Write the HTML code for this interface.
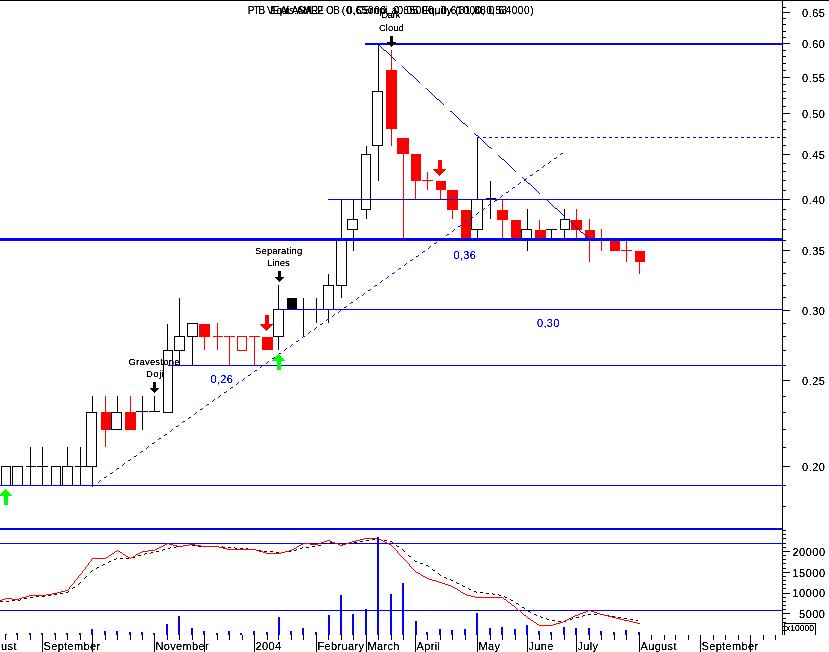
<!DOCTYPE html>
<html><head><meta charset="utf-8"><title>chart</title>
<style>
html,body{margin:0;padding:0;background:#fff;}
body{width:829px;height:652px;position:relative;overflow:hidden;font-family:"Liberation Sans",sans-serif;}
svg{position:absolute;left:0;top:0;}
.t{position:absolute;white-space:nowrap;line-height:1;font-family:"Liberation Sans",sans-serif;}
</style></head><body>
<svg width="829" height="652" viewBox="0 0 829 652" shape-rendering="crispEdges">
<rect x="1.5" y="466.5" width="9" height="19" fill="#fff" stroke="#000" stroke-width="1"/>
<rect x="12.5" y="466.5" width="10" height="19" fill="#fff" stroke="#000" stroke-width="1"/>
<rect x="30" y="447" width="1" height="39" fill="#000"/>
<rect x="26" y="466" width="10" height="1" fill="#000"/>
<rect x="42" y="447" width="1" height="39" fill="#000"/>
<rect x="37" y="466" width="11" height="1" fill="#000"/>
<rect x="51.5" y="466.5" width="9" height="19" fill="#fff" stroke="#000" stroke-width="1"/>
<rect x="67" y="447" width="1" height="20" fill="#000"/>
<rect x="62.5" y="466.5" width="10" height="19" fill="#fff" stroke="#000" stroke-width="1"/>
<rect x="80" y="447" width="1" height="39" fill="#000"/>
<rect x="75" y="466" width="12" height="1" fill="#000"/>
<rect x="92" y="396" width="1" height="17" fill="#000"/>
<rect x="92" y="466" width="1" height="20" fill="#000"/>
<rect x="86.5" y="412.5" width="10" height="54" fill="#fff" stroke="#000" stroke-width="1"/>
<rect x="105" y="396" width="1" height="17" fill="#f00"/>
<rect x="105" y="429" width="1" height="18" fill="#f00"/>
<rect x="101" y="412" width="10" height="18" fill="#f00"/>
<rect x="117" y="396" width="1" height="17" fill="#000"/>
<rect x="111.5" y="412.5" width="10" height="17" fill="#fff" stroke="#000" stroke-width="1"/>
<rect x="130" y="396" width="1" height="17" fill="#f00"/>
<rect x="125" y="412" width="11" height="18" fill="#f00"/>
<rect x="142" y="396" width="1" height="34" fill="#000"/>
<rect x="136" y="411" width="12" height="1" fill="#000"/>
<rect x="154" y="396" width="1" height="16" fill="#000"/>
<rect x="149" y="411" width="11" height="1" fill="#000"/>
<rect x="167" y="324" width="1" height="27" fill="#000"/>
<rect x="163.5" y="350.5" width="9" height="62" fill="#fff" stroke="#000" stroke-width="1"/>
<rect x="179" y="298" width="1" height="39" fill="#000"/>
<rect x="179" y="350" width="1" height="16" fill="#000"/>
<rect x="174.5" y="336.5" width="10" height="14" fill="#fff" stroke="#000" stroke-width="1"/>
<rect x="192" y="336" width="1" height="30" fill="#000"/>
<rect x="187.5" y="323.5" width="10" height="13" fill="#fff" stroke="#000" stroke-width="1"/>
<rect x="204" y="336" width="1" height="14" fill="#f00"/>
<rect x="199" y="324" width="11" height="13" fill="#f00"/>
<rect x="217" y="323" width="1" height="27" fill="#f00"/>
<rect x="213" y="336" width="10" height="1" fill="#f00"/>
<rect x="229" y="336" width="1" height="30" fill="#f00"/>
<rect x="224" y="336" width="11" height="1" fill="#f00"/>
<rect x="237.5" y="336.5" width="9" height="14" fill="#fff" stroke="#f00" stroke-width="1"/>
<rect x="254" y="336" width="1" height="30" fill="#f00"/>
<rect x="249" y="336" width="11" height="1" fill="#f00"/>
<rect x="262" y="337" width="11" height="13" fill="#f00"/>
<rect x="278" y="285" width="1" height="25" fill="#000"/>
<rect x="278" y="336" width="1" height="14" fill="#000"/>
<rect x="273.5" y="309.5" width="10" height="27" fill="#fff" stroke="#000" stroke-width="1"/>
<rect x="287" y="298" width="10" height="11" fill="#000"/>
<rect x="303" y="298" width="1" height="38" fill="#000"/>
<rect x="316" y="298" width="1" height="25" fill="#000"/>
<rect x="328" y="274" width="1" height="12" fill="#000"/>
<rect x="328" y="309" width="1" height="14" fill="#000"/>
<rect x="323.5" y="285.5" width="10" height="24" fill="#fff" stroke="#000" stroke-width="1"/>
<rect x="341" y="199" width="1" height="41" fill="#000"/>
<rect x="341" y="285" width="1" height="13" fill="#000"/>
<rect x="336.5" y="239.5" width="10" height="46" fill="#fff" stroke="#000" stroke-width="1"/>
<rect x="353" y="199" width="1" height="21" fill="#000"/>
<rect x="353" y="229" width="1" height="22" fill="#000"/>
<rect x="347.5" y="219.5" width="10" height="10" fill="#fff" stroke="#000" stroke-width="1"/>
<rect x="366" y="146" width="1" height="9" fill="#000"/>
<rect x="366" y="209" width="1" height="10" fill="#000"/>
<rect x="361.5" y="154.5" width="9" height="55" fill="#fff" stroke="#000" stroke-width="1"/>
<rect x="378" y="44" width="1" height="48" fill="#000"/>
<rect x="378" y="145" width="1" height="36" fill="#000"/>
<rect x="372.5" y="91.5" width="10" height="54" fill="#fff" stroke="#000" stroke-width="1"/>
<rect x="391" y="50" width="1" height="21" fill="#f00"/>
<rect x="391" y="128" width="1" height="18" fill="#f00"/>
<rect x="386" y="70" width="11" height="59" fill="#f00"/>
<rect x="403" y="153" width="1" height="86" fill="#f00"/>
<rect x="397" y="138" width="12" height="16" fill="#f00"/>
<rect x="415" y="180" width="1" height="20" fill="#f00"/>
<rect x="411" y="154" width="10" height="27" fill="#f00"/>
<rect x="427" y="172" width="1" height="18" fill="#f00"/>
<rect x="422" y="180" width="11" height="1" fill="#f00"/>
<rect x="440" y="189" width="1" height="11" fill="#f00"/>
<rect x="436" y="181" width="10" height="9" fill="#f00"/>
<rect x="452" y="209" width="1" height="10" fill="#f00"/>
<rect x="447" y="190" width="11" height="20" fill="#f00"/>
<rect x="461" y="210" width="10" height="29" fill="#f00"/>
<rect x="477" y="137" width="1" height="63" fill="#000"/>
<rect x="477" y="229" width="1" height="10" fill="#000"/>
<rect x="471.5" y="199.5" width="11" height="30" fill="#fff" stroke="#000" stroke-width="1"/>
<rect x="490" y="181" width="1" height="38" fill="#000"/>
<rect x="486" y="198" width="10" height="1" fill="#000"/>
<rect x="502" y="199" width="1" height="12" fill="#f00"/>
<rect x="502" y="219" width="1" height="20" fill="#f00"/>
<rect x="497" y="210" width="11" height="10" fill="#f00"/>
<rect x="511" y="220" width="10" height="19" fill="#f00"/>
<rect x="527" y="209" width="1" height="21" fill="#000"/>
<rect x="527" y="239" width="1" height="12" fill="#000"/>
<rect x="521.5" y="229.5" width="10" height="10" fill="#fff" stroke="#000" stroke-width="1"/>
<rect x="539" y="220" width="1" height="11" fill="#f00"/>
<rect x="535" y="230" width="11" height="9" fill="#f00"/>
<rect x="551" y="229" width="1" height="10" fill="#000"/>
<rect x="546" y="229" width="11" height="1" fill="#000"/>
<rect x="564" y="209" width="1" height="11" fill="#000"/>
<rect x="564" y="229" width="1" height="10" fill="#000"/>
<rect x="560.5" y="219.5" width="9" height="10" fill="#fff" stroke="#000" stroke-width="1"/>
<rect x="576" y="209" width="1" height="12" fill="#f00"/>
<rect x="576" y="229" width="1" height="10" fill="#f00"/>
<rect x="571" y="220" width="11" height="10" fill="#f00"/>
<rect x="589" y="219" width="1" height="12" fill="#f00"/>
<rect x="589" y="238" width="1" height="24" fill="#f00"/>
<rect x="585" y="230" width="10" height="9" fill="#f00"/>
<rect x="601" y="229" width="1" height="22" fill="#f00"/>
<rect x="610" y="241" width="10" height="10" fill="#f00"/>
<rect x="626" y="241" width="1" height="21" fill="#f00"/>
<rect x="621" y="250" width="11" height="1" fill="#f00"/>
<rect x="639" y="261" width="1" height="13" fill="#f00"/>
<rect x="635" y="251" width="10" height="11" fill="#f00"/>
<path d="M92 486h1v1h-1zM93 485h1v1h-1zM94 485h1v1h-1zM98 482h1v1h-1zM99 481h1v1h-1zM100 480h1v1h-1zM104 477h1v1h-1zM105 477h1v1h-1zM106 476h1v1h-1zM110 473h1v1h-1zM111 473h1v1h-1zM112 472h1v1h-1zM116 469h1v1h-1zM117 468h1v1h-1zM118 468h1v1h-1zM122 465h1v1h-1zM123 464h1v1h-1zM124 463h1v1h-1zM128 460h1v1h-1zM129 460h1v1h-1zM130 459h1v1h-1zM134 456h1v1h-1zM135 456h1v1h-1zM136 455h1v1h-1zM140 452h1v1h-1zM141 451h1v1h-1zM142 451h1v1h-1zM146 448h1v1h-1zM147 447h1v1h-1zM148 446h1v1h-1zM152 443h1v1h-1zM153 443h1v1h-1zM154 442h1v1h-1zM158 439h1v1h-1zM159 438h1v1h-1zM160 438h1v1h-1zM164 435h1v1h-1zM165 434h1v1h-1zM166 434h1v1h-1zM170 431h1v1h-1zM171 430h1v1h-1zM172 429h1v1h-1zM176 426h1v1h-1zM177 426h1v1h-1zM178 425h1v1h-1zM182 422h1v1h-1zM183 421h1v1h-1zM184 421h1v1h-1zM188 418h1v1h-1zM189 417h1v1h-1zM190 417h1v1h-1zM194 414h1v1h-1zM195 413h1v1h-1zM196 412h1v1h-1zM200 409h1v1h-1zM201 409h1v1h-1zM202 408h1v1h-1zM206 405h1v1h-1zM207 404h1v1h-1zM208 404h1v1h-1zM212 401h1v1h-1zM213 400h1v1h-1zM214 399h1v1h-1zM218 397h1v1h-1zM219 396h1v1h-1zM220 395h1v1h-1zM224 392h1v1h-1zM225 392h1v1h-1zM226 391h1v1h-1zM230 388h1v1h-1zM231 387h1v1h-1zM232 387h1v1h-1zM236 384h1v1h-1zM237 383h1v1h-1zM238 382h1v1h-1zM242 380h1v1h-1zM243 379h1v1h-1zM244 378h1v1h-1zM248 375h1v1h-1zM249 375h1v1h-1zM250 374h1v1h-1zM254 371h1v1h-1zM255 370h1v1h-1zM256 370h1v1h-1zM260 367h1v1h-1zM261 366h1v1h-1zM262 365h1v1h-1zM266 363h1v1h-1zM267 362h1v1h-1zM268 361h1v1h-1zM272 358h1v1h-1zM273 358h1v1h-1zM274 357h1v1h-1zM278 354h1v1h-1zM279 353h1v1h-1zM280 353h1v1h-1zM284 350h1v1h-1zM285 349h1v1h-1zM286 348h1v1h-1zM290 346h1v1h-1zM291 345h1v1h-1zM292 344h1v1h-1zM296 341h1v1h-1zM297 341h1v1h-1zM298 340h1v1h-1zM302 337h1v1h-1zM303 336h1v1h-1zM304 336h1v1h-1zM308 333h1v1h-1zM309 332h1v1h-1zM310 331h1v1h-1zM314 329h1v1h-1zM315 328h1v1h-1zM316 327h1v1h-1zM320 324h1v1h-1zM321 324h1v1h-1zM322 323h1v1h-1zM326 320h1v1h-1zM327 319h1v1h-1zM328 319h1v1h-1zM332 316h1v1h-1zM333 315h1v1h-1zM334 314h1v1h-1zM338 312h1v1h-1zM339 311h1v1h-1zM340 310h1v1h-1zM344 307h1v1h-1zM345 307h1v1h-1zM346 306h1v1h-1zM350 303h1v1h-1zM351 302h1v1h-1zM352 302h1v1h-1zM356 299h1v1h-1zM357 298h1v1h-1zM358 297h1v1h-1zM362 295h1v1h-1zM363 294h1v1h-1zM364 293h1v1h-1zM368 290h1v1h-1zM369 290h1v1h-1zM370 289h1v1h-1zM374 286h1v1h-1zM375 285h1v1h-1zM376 285h1v1h-1zM380 282h1v1h-1zM381 281h1v1h-1zM382 280h1v1h-1zM386 278h1v1h-1zM387 277h1v1h-1zM388 276h1v1h-1zM392 273h1v1h-1zM393 273h1v1h-1zM394 272h1v1h-1zM398 269h1v1h-1zM399 268h1v1h-1zM400 268h1v1h-1zM404 265h1v1h-1zM405 264h1v1h-1zM406 263h1v1h-1zM410 260h1v1h-1zM411 260h1v1h-1zM412 259h1v1h-1zM416 256h1v1h-1zM417 256h1v1h-1zM418 255h1v1h-1zM422 252h1v1h-1zM423 251h1v1h-1zM424 251h1v1h-1zM428 248h1v1h-1zM429 247h1v1h-1zM430 246h1v1h-1zM434 243h1v1h-1zM435 243h1v1h-1zM436 242h1v1h-1zM440 239h1v1h-1zM441 239h1v1h-1zM442 238h1v1h-1zM446 235h1v1h-1zM447 234h1v1h-1zM448 234h1v1h-1zM452 231h1v1h-1zM453 230h1v1h-1zM454 229h1v1h-1zM458 226h1v1h-1zM459 226h1v1h-1zM460 225h1v1h-1zM464 222h1v1h-1zM465 221h1v1h-1zM466 221h1v1h-1zM470 218h1v1h-1zM471 217h1v1h-1zM472 217h1v1h-1zM476 214h1v1h-1zM477 213h1v1h-1zM478 212h1v1h-1zM482 209h1v1h-1zM483 209h1v1h-1zM484 208h1v1h-1zM488 205h1v1h-1zM489 204h1v1h-1zM490 204h1v1h-1zM494 201h1v1h-1zM495 200h1v1h-1zM496 200h1v1h-1zM500 197h1v1h-1zM501 196h1v1h-1zM502 195h1v1h-1zM506 192h1v1h-1zM507 192h1v1h-1zM508 191h1v1h-1zM512 188h1v1h-1zM513 187h1v1h-1zM514 187h1v1h-1zM518 184h1v1h-1zM519 183h1v1h-1zM520 182h1v1h-1zM524 180h1v1h-1zM525 179h1v1h-1zM526 178h1v1h-1zM530 175h1v1h-1zM531 175h1v1h-1zM532 174h1v1h-1zM536 171h1v1h-1zM537 170h1v1h-1zM538 170h1v1h-1zM542 167h1v1h-1zM543 166h1v1h-1zM544 165h1v1h-1zM548 163h1v1h-1zM549 162h1v1h-1zM550 161h1v1h-1zM554 158h1v1h-1zM555 158h1v1h-1zM556 157h1v1h-1zM560 154h1v1h-1zM561 153h1v1h-1zM562 153h1v1h-1z" fill="#00f"/>
<path d="M378 44h1v1h-1zM379 45h1v1h-1zM380 46h1v1h-1zM381 47h1v1h-1zM382 48h1v1h-1zM383 49h1v1h-1zM384 50h1v1h-1zM385 50h1v1h-1zM386 51h1v1h-1zM387 52h1v1h-1zM388 53h1v1h-1zM389 54h1v1h-1zM390 55h1v1h-1zM391 56h1v1h-1zM392 57h1v1h-1zM393 58h1v1h-1zM394 59h1v1h-1zM395 60h1v1h-1zM402 66h1v1h-1zM403 67h1v1h-1zM404 68h1v1h-1zM405 69h1v1h-1zM406 70h1v1h-1zM407 71h1v1h-1zM408 72h1v1h-1zM409 73h1v1h-1zM410 74h1v1h-1zM411 74h1v1h-1zM412 75h1v1h-1zM413 76h1v1h-1zM414 77h1v1h-1zM415 78h1v1h-1zM416 79h1v1h-1zM417 80h1v1h-1zM418 81h1v1h-1zM419 82h1v1h-1zM426 88h1v1h-1zM427 89h1v1h-1zM428 90h1v1h-1zM429 91h1v1h-1zM430 92h1v1h-1zM431 93h1v1h-1zM432 94h1v1h-1zM433 95h1v1h-1zM434 96h1v1h-1zM435 97h1v1h-1zM436 98h1v1h-1zM437 99h1v1h-1zM438 99h1v1h-1zM439 100h1v1h-1zM440 101h1v1h-1zM441 102h1v1h-1zM442 103h1v1h-1zM443 104h1v1h-1zM450 111h1v1h-1zM451 111h1v1h-1zM452 112h1v1h-1zM453 113h1v1h-1zM454 114h1v1h-1zM455 115h1v1h-1zM456 116h1v1h-1zM457 117h1v1h-1zM458 118h1v1h-1zM459 119h1v1h-1zM460 120h1v1h-1zM461 121h1v1h-1zM462 122h1v1h-1zM463 123h1v1h-1zM464 123h1v1h-1zM465 124h1v1h-1zM466 125h1v1h-1zM467 126h1v1h-1zM474 133h1v1h-1zM475 134h1v1h-1zM476 135h1v1h-1zM477 135h1v1h-1zM478 136h1v1h-1zM479 137h1v1h-1zM480 138h1v1h-1zM481 139h1v1h-1zM482 140h1v1h-1zM483 141h1v1h-1zM484 142h1v1h-1zM485 143h1v1h-1zM486 144h1v1h-1zM487 145h1v1h-1zM488 146h1v1h-1zM489 147h1v1h-1zM490 147h1v1h-1zM491 148h1v1h-1zM498 155h1v1h-1zM499 156h1v1h-1zM500 157h1v1h-1zM501 158h1v1h-1zM502 159h1v1h-1zM503 159h1v1h-1zM504 160h1v1h-1zM505 161h1v1h-1zM506 162h1v1h-1zM507 163h1v1h-1zM508 164h1v1h-1zM509 165h1v1h-1zM510 166h1v1h-1zM511 167h1v1h-1zM512 168h1v1h-1zM513 169h1v1h-1zM514 170h1v1h-1zM515 171h1v1h-1zM522 177h1v1h-1zM523 178h1v1h-1zM524 179h1v1h-1zM525 180h1v1h-1zM526 181h1v1h-1zM527 182h1v1h-1zM528 183h1v1h-1zM529 183h1v1h-1zM530 184h1v1h-1zM531 185h1v1h-1zM532 186h1v1h-1zM533 187h1v1h-1zM534 188h1v1h-1zM535 189h1v1h-1zM536 190h1v1h-1zM537 191h1v1h-1zM538 192h1v1h-1zM539 193h1v1h-1zM546 199h1v1h-1zM547 200h1v1h-1zM548 201h1v1h-1zM549 202h1v1h-1zM550 203h1v1h-1zM551 204h1v1h-1zM552 205h1v1h-1zM553 206h1v1h-1zM554 207h1v1h-1zM555 208h1v1h-1zM556 208h1v1h-1zM557 209h1v1h-1zM558 210h1v1h-1zM559 211h1v1h-1zM560 212h1v1h-1zM561 213h1v1h-1zM562 214h1v1h-1zM563 215h1v1h-1zM570 221h1v1h-1zM571 222h1v1h-1zM572 223h1v1h-1zM573 224h1v1h-1zM574 225h1v1h-1zM575 226h1v1h-1zM576 227h1v1h-1zM577 228h1v1h-1zM578 229h1v1h-1zM579 230h1v1h-1zM580 231h1v1h-1zM581 232h1v1h-1zM582 232h1v1h-1zM583 233h1v1h-1zM584 234h1v1h-1zM585 235h1v1h-1zM586 236h1v1h-1zM587 237h1v1h-1z" fill="#00f"/>
<rect x="365" y="43" width="417" height="2" fill="#00f"/>
<rect x="477" y="137" width="3" height="1" fill="#00f"/>
<rect x="483" y="137" width="3" height="1" fill="#00f"/>
<rect x="489" y="137" width="3" height="1" fill="#00f"/>
<rect x="495" y="137" width="3" height="1" fill="#00f"/>
<rect x="501" y="137" width="3" height="1" fill="#00f"/>
<rect x="507" y="137" width="3" height="1" fill="#00f"/>
<rect x="513" y="137" width="3" height="1" fill="#00f"/>
<rect x="519" y="137" width="3" height="1" fill="#00f"/>
<rect x="525" y="137" width="3" height="1" fill="#00f"/>
<rect x="531" y="137" width="3" height="1" fill="#00f"/>
<rect x="537" y="137" width="3" height="1" fill="#00f"/>
<rect x="543" y="137" width="3" height="1" fill="#00f"/>
<rect x="549" y="137" width="3" height="1" fill="#00f"/>
<rect x="555" y="137" width="3" height="1" fill="#00f"/>
<rect x="561" y="137" width="3" height="1" fill="#00f"/>
<rect x="567" y="137" width="3" height="1" fill="#00f"/>
<rect x="573" y="137" width="3" height="1" fill="#00f"/>
<rect x="579" y="137" width="3" height="1" fill="#00f"/>
<rect x="585" y="137" width="3" height="1" fill="#00f"/>
<rect x="591" y="137" width="3" height="1" fill="#00f"/>
<rect x="597" y="137" width="3" height="1" fill="#00f"/>
<rect x="603" y="137" width="3" height="1" fill="#00f"/>
<rect x="609" y="137" width="3" height="1" fill="#00f"/>
<rect x="615" y="137" width="3" height="1" fill="#00f"/>
<rect x="621" y="137" width="3" height="1" fill="#00f"/>
<rect x="627" y="137" width="3" height="1" fill="#00f"/>
<rect x="633" y="137" width="3" height="1" fill="#00f"/>
<rect x="639" y="137" width="3" height="1" fill="#00f"/>
<rect x="645" y="137" width="3" height="1" fill="#00f"/>
<rect x="651" y="137" width="3" height="1" fill="#00f"/>
<rect x="657" y="137" width="3" height="1" fill="#00f"/>
<rect x="663" y="137" width="3" height="1" fill="#00f"/>
<rect x="669" y="137" width="3" height="1" fill="#00f"/>
<rect x="675" y="137" width="3" height="1" fill="#00f"/>
<rect x="681" y="137" width="3" height="1" fill="#00f"/>
<rect x="687" y="137" width="3" height="1" fill="#00f"/>
<rect x="693" y="137" width="3" height="1" fill="#00f"/>
<rect x="699" y="137" width="3" height="1" fill="#00f"/>
<rect x="705" y="137" width="3" height="1" fill="#00f"/>
<rect x="711" y="137" width="3" height="1" fill="#00f"/>
<rect x="717" y="137" width="3" height="1" fill="#00f"/>
<rect x="723" y="137" width="3" height="1" fill="#00f"/>
<rect x="729" y="137" width="3" height="1" fill="#00f"/>
<rect x="735" y="137" width="3" height="1" fill="#00f"/>
<rect x="741" y="137" width="3" height="1" fill="#00f"/>
<rect x="747" y="137" width="3" height="1" fill="#00f"/>
<rect x="753" y="137" width="3" height="1" fill="#00f"/>
<rect x="759" y="137" width="3" height="1" fill="#00f"/>
<rect x="765" y="137" width="3" height="1" fill="#00f"/>
<rect x="771" y="137" width="3" height="1" fill="#00f"/>
<rect x="777" y="137" width="3" height="1" fill="#00f"/>
<rect x="328" y="199" width="454" height="1" fill="#00f"/>
<rect x="0" y="238" width="782" height="3" fill="#00f"/>
<rect x="278" y="309" width="504" height="1" fill="#00f"/>
<rect x="168" y="365" width="614" height="1" fill="#00f"/>
<rect x="0" y="485" width="782" height="1" fill="#00f"/>
<rect x="0" y="528" width="782" height="2" fill="#00f"/>
<rect x="0" y="543" width="782" height="1" fill="#00f"/>
<rect x="0" y="610" width="782" height="1" fill="#00f"/>
<rect x="5" y="489" width="1" height="1" fill="#0f0"/>
<rect x="4" y="490" width="3" height="1" fill="#0f0"/>
<rect x="3" y="491" width="5" height="1" fill="#0f0"/>
<rect x="2" y="492" width="7" height="1" fill="#0f0"/>
<rect x="1" y="493" width="9" height="1" fill="#0f0"/>
<rect x="0" y="494" width="11" height="1" fill="#0f0"/>
<rect x="-1" y="495" width="13" height="1" fill="#0f0"/>
<rect x="4" y="496" width="4" height="9" fill="#0f0"/>
<rect x="278" y="354" width="1" height="1" fill="#0f0"/>
<rect x="277" y="355" width="3" height="1" fill="#0f0"/>
<rect x="276" y="356" width="5" height="1" fill="#0f0"/>
<rect x="275" y="357" width="7" height="1" fill="#0f0"/>
<rect x="274" y="358" width="9" height="1" fill="#0f0"/>
<rect x="273" y="359" width="11" height="1" fill="#0f0"/>
<rect x="272" y="360" width="13" height="1" fill="#0f0"/>
<rect x="277" y="361" width="4" height="9" fill="#0f0"/>
<rect x="265" y="315" width="4" height="9" fill="#f00"/>
<rect x="260" y="324" width="13" height="1" fill="#f00"/>
<rect x="261" y="325" width="11" height="1" fill="#f00"/>
<rect x="262" y="326" width="9" height="1" fill="#f00"/>
<rect x="263" y="327" width="7" height="1" fill="#f00"/>
<rect x="264" y="328" width="5" height="1" fill="#f00"/>
<rect x="265" y="329" width="3" height="1" fill="#f00"/>
<rect x="266" y="330" width="1" height="1" fill="#f00"/>
<rect x="438" y="160" width="4" height="9" fill="#f00"/>
<rect x="433" y="169" width="13" height="1" fill="#f00"/>
<rect x="434" y="170" width="11" height="1" fill="#f00"/>
<rect x="435" y="171" width="9" height="1" fill="#f00"/>
<rect x="436" y="172" width="7" height="1" fill="#f00"/>
<rect x="437" y="173" width="5" height="1" fill="#f00"/>
<rect x="438" y="174" width="3" height="1" fill="#f00"/>
<rect x="439" y="175" width="1" height="1" fill="#f00"/>
<rect x="153" y="382" width="3" height="6" fill="#000"/>
<rect x="150" y="388" width="9" height="1" fill="#000"/>
<rect x="151" y="389" width="7" height="1" fill="#000"/>
<rect x="152" y="390" width="5" height="1" fill="#000"/>
<rect x="153" y="391" width="3" height="1" fill="#000"/>
<rect x="154" y="392" width="1" height="1" fill="#000"/>
<rect x="278" y="271" width="3" height="6" fill="#000"/>
<rect x="275" y="277" width="9" height="1" fill="#000"/>
<rect x="276" y="278" width="7" height="1" fill="#000"/>
<rect x="277" y="279" width="5" height="1" fill="#000"/>
<rect x="278" y="280" width="3" height="1" fill="#000"/>
<rect x="279" y="281" width="1" height="1" fill="#000"/>
<rect x="390" y="36" width="3" height="6" fill="#000"/>
<rect x="387" y="42" width="9" height="1" fill="#000"/>
<rect x="388" y="43" width="7" height="1" fill="#000"/>
<rect x="389" y="44" width="5" height="1" fill="#000"/>
<rect x="390" y="45" width="3" height="1" fill="#000"/>
<rect x="391" y="46" width="1" height="1" fill="#000"/>
<path d="M0 601h1v1h-1zM1 601h1v1h-1zM2 601h1v1h-1zM6 601h1v1h-1zM7 601h1v1h-1zM8 601h1v1h-1zM12 600h1v1h-1zM13 600h1v1h-1zM14 600h1v1h-1zM18 600h1v1h-1zM19 600h1v1h-1zM20 599h1v1h-1zM24 598h1v1h-1zM25 598h1v1h-1zM26 598h1v1h-1zM30 597h1v1h-1zM31 597h1v1h-1zM32 597h1v1h-1zM36 596h1v1h-1zM37 596h1v1h-1zM38 596h1v1h-1zM42 596h1v1h-1zM43 596h1v1h-1zM44 596h1v1h-1zM48 595h1v1h-1zM49 595h1v1h-1zM50 595h1v1h-1zM54 594h1v1h-1zM55 594h1v1h-1zM56 594h1v1h-1zM60 593h1v1h-1zM61 593h1v1h-1zM62 593h1v1h-1zM66 592h1v1h-1zM67 592h1v1h-1zM68 591h1v1h-1zM72 588h1v1h-1zM73 587h1v1h-1zM74 587h1v1h-1zM78 584h1v1h-1zM79 583h1v1h-1zM80 582h1v1h-1zM84 578h1v1h-1zM85 577h1v1h-1zM86 576h1v1h-1zM90 572h1v1h-1zM91 571h1v1h-1zM92 570h1v1h-1zM96 568h1v1h-1zM97 567h1v1h-1zM98 567h1v1h-1zM102 565h1v1h-1zM103 564h1v1h-1zM104 564h1v1h-1zM108 562h1v1h-1zM109 561h1v1h-1zM110 561h1v1h-1zM114 559h1v1h-1zM115 559h1v1h-1zM116 558h1v1h-1zM120 558h1v1h-1zM121 558h1v1h-1zM122 558h1v1h-1zM126 558h1v1h-1zM127 558h1v1h-1zM128 558h1v1h-1zM132 557h1v1h-1zM133 557h1v1h-1zM134 557h1v1h-1zM138 555h1v1h-1zM139 555h1v1h-1zM140 555h1v1h-1zM144 554h1v1h-1zM145 553h1v1h-1zM146 553h1v1h-1zM150 553h1v1h-1zM151 552h1v1h-1zM152 552h1v1h-1zM156 551h1v1h-1zM157 551h1v1h-1zM158 551h1v1h-1zM162 550h1v1h-1zM163 549h1v1h-1zM164 549h1v1h-1zM168 548h1v1h-1zM169 548h1v1h-1zM170 547h1v1h-1zM174 547h1v1h-1zM175 547h1v1h-1zM176 546h1v1h-1zM180 546h1v1h-1zM181 546h1v1h-1zM182 546h1v1h-1zM186 545h1v1h-1zM187 545h1v1h-1zM188 545h1v1h-1zM192 545h1v1h-1zM193 545h1v1h-1zM194 545h1v1h-1zM198 546h1v1h-1zM199 546h1v1h-1zM200 546h1v1h-1zM204 546h1v1h-1zM205 546h1v1h-1zM206 546h1v1h-1zM210 546h1v1h-1zM211 546h1v1h-1zM212 546h1v1h-1zM216 546h1v1h-1zM217 546h1v1h-1zM218 546h1v1h-1zM222 546h1v1h-1zM223 547h1v1h-1zM224 547h1v1h-1zM228 547h1v1h-1zM229 547h1v1h-1zM230 547h1v1h-1zM234 547h1v1h-1zM235 548h1v1h-1zM236 548h1v1h-1zM240 548h1v1h-1zM241 548h1v1h-1zM242 548h1v1h-1zM246 548h1v1h-1zM247 548h1v1h-1zM248 549h1v1h-1zM252 549h1v1h-1zM253 549h1v1h-1zM254 549h1v1h-1zM258 550h1v1h-1zM259 550h1v1h-1zM260 550h1v1h-1zM264 551h1v1h-1zM265 551h1v1h-1zM266 551h1v1h-1zM270 551h1v1h-1zM271 551h1v1h-1zM272 551h1v1h-1zM276 552h1v1h-1zM277 552h1v1h-1zM278 552h1v1h-1zM282 552h1v1h-1zM283 552h1v1h-1zM284 552h1v1h-1zM288 551h1v1h-1zM289 551h1v1h-1zM290 551h1v1h-1zM294 550h1v1h-1zM295 550h1v1h-1zM296 549h1v1h-1zM300 548h1v1h-1zM301 548h1v1h-1zM302 547h1v1h-1zM306 547h1v1h-1zM307 547h1v1h-1zM308 547h1v1h-1zM312 546h1v1h-1zM313 546h1v1h-1zM314 546h1v1h-1zM318 545h1v1h-1zM319 545h1v1h-1zM320 545h1v1h-1zM324 543h1v1h-1zM325 543h1v1h-1zM326 543h1v1h-1zM330 542h1v1h-1zM331 542h1v1h-1zM332 543h1v1h-1zM336 543h1v1h-1zM337 543h1v1h-1zM338 544h1v1h-1zM342 544h1v1h-1zM343 544h1v1h-1zM344 543h1v1h-1zM348 543h1v1h-1zM349 543h1v1h-1zM350 542h1v1h-1zM354 542h1v1h-1zM355 542h1v1h-1zM356 542h1v1h-1zM360 541h1v1h-1zM361 541h1v1h-1zM362 541h1v1h-1zM366 540h1v1h-1zM367 540h1v1h-1zM368 540h1v1h-1zM372 539h1v1h-1zM373 539h1v1h-1zM374 539h1v1h-1zM378 539h1v1h-1zM379 539h1v1h-1zM380 539h1v1h-1zM384 540h1v1h-1zM385 540h1v1h-1zM386 540h1v1h-1zM390 541h1v1h-1zM391 541h1v1h-1zM392 542h1v1h-1zM396 545h1v1h-1zM397 546h1v1h-1zM398 546h1v1h-1zM402 549h1v1h-1zM403 550h1v1h-1zM404 551h1v1h-1zM408 555h1v1h-1zM409 556h1v1h-1zM410 556h1v1h-1zM414 560h1v1h-1zM415 561h1v1h-1zM416 561h1v1h-1zM420 563h1v1h-1zM421 563h1v1h-1zM422 563h1v1h-1zM426 565h1v1h-1zM427 565h1v1h-1zM428 566h1v1h-1zM432 569h1v1h-1zM433 570h1v1h-1zM434 570h1v1h-1zM438 573h1v1h-1zM439 574h1v1h-1zM440 575h1v1h-1zM444 577h1v1h-1zM445 577h1v1h-1zM446 578h1v1h-1zM450 579h1v1h-1zM451 580h1v1h-1zM452 580h1v1h-1zM456 582h1v1h-1zM457 583h1v1h-1zM458 583h1v1h-1zM462 585h1v1h-1zM463 586h1v1h-1zM464 586h1v1h-1zM468 588h1v1h-1zM469 589h1v1h-1zM470 589h1v1h-1zM474 591h1v1h-1zM475 591h1v1h-1zM476 592h1v1h-1zM480 592h1v1h-1zM481 592h1v1h-1zM482 592h1v1h-1zM486 593h1v1h-1zM487 593h1v1h-1zM488 593h1v1h-1zM492 593h1v1h-1zM493 594h1v1h-1zM494 594h1v1h-1zM498 594h1v1h-1zM499 595h1v1h-1zM500 595h1v1h-1zM504 596h1v1h-1zM505 597h1v1h-1zM506 597h1v1h-1zM510 599h1v1h-1zM511 600h1v1h-1zM512 600h1v1h-1zM516 603h1v1h-1zM517 603h1v1h-1zM518 604h1v1h-1zM522 607h1v1h-1zM523 607h1v1h-1zM524 608h1v1h-1zM528 611h1v1h-1zM529 611h1v1h-1zM530 612h1v1h-1zM534 614h1v1h-1zM535 614h1v1h-1zM536 615h1v1h-1zM540 616h1v1h-1zM541 617h1v1h-1zM542 617h1v1h-1zM546 618h1v1h-1zM547 619h1v1h-1zM548 619h1v1h-1zM552 620h1v1h-1zM553 620h1v1h-1zM554 620h1v1h-1zM558 621h1v1h-1zM559 621h1v1h-1zM560 621h1v1h-1zM564 621h1v1h-1zM565 621h1v1h-1zM566 620h1v1h-1zM570 619h1v1h-1zM571 619h1v1h-1zM572 618h1v1h-1zM576 617h1v1h-1zM577 617h1v1h-1zM578 617h1v1h-1zM582 616h1v1h-1zM583 615h1v1h-1zM584 615h1v1h-1zM588 614h1v1h-1zM589 614h1v1h-1zM590 614h1v1h-1zM594 614h1v1h-1zM595 614h1v1h-1zM596 614h1v1h-1zM600 614h1v1h-1zM601 614h1v1h-1zM602 614h1v1h-1zM606 615h1v1h-1zM607 615h1v1h-1zM608 615h1v1h-1zM612 616h1v1h-1zM613 616h1v1h-1zM614 616h1v1h-1zM618 617h1v1h-1zM619 617h1v1h-1zM620 617h1v1h-1zM624 618h1v1h-1zM625 618h1v1h-1zM626 618h1v1h-1zM630 619h1v1h-1zM631 619h1v1h-1zM632 619h1v1h-1zM636 620h1v1h-1zM637 620h1v1h-1z" fill="#000"/>
<path d="M0 600h1v1h-1zM1 600h1v1h-1zM2 599h1v1h-1zM3 599h1v1h-1zM4 599h1v1h-1zM5 598h1v1h-1zM6 598h1v1h-1zM7 598h1v1h-1zM8 598h1v1h-1zM9 598h1v1h-1zM10 598h1v1h-1zM11 598h1v1h-1zM12 599h1v1h-1zM13 599h1v1h-1zM14 599h1v1h-1zM15 599h1v1h-1zM16 599h1v1h-1zM17 599h1v1h-1zM18 599h1v1h-1zM19 598h1v1h-1zM20 598h1v1h-1zM21 598h1v1h-1zM22 597h1v1h-1zM23 597h1v1h-1zM24 597h1v1h-1zM25 597h1v1h-1zM26 596h1v1h-1zM27 596h1v1h-1zM28 596h1v1h-1zM29 595h1v1h-1zM30 595h1v1h-1zM31 595h1v1h-1zM32 595h1v1h-1zM33 595h1v1h-1zM34 595h1v1h-1zM35 595h1v1h-1zM36 595h1v1h-1zM37 595h1v1h-1zM38 595h1v1h-1zM39 595h1v1h-1zM40 595h1v1h-1zM41 595h1v1h-1zM42 595h1v1h-1zM43 595h1v1h-1zM44 595h1v1h-1zM45 595h1v1h-1zM46 594h1v1h-1zM47 594h1v1h-1zM48 594h1v1h-1zM49 594h1v1h-1zM50 594h1v1h-1zM51 594h1v1h-1zM52 593h1v1h-1zM53 593h1v1h-1zM54 593h1v1h-1zM55 593h1v1h-1zM56 593h1v1h-1zM57 592h1v1h-1zM58 592h1v1h-1zM59 592h1v1h-1zM60 592h1v1h-1zM61 591h1v1h-1zM62 591h1v1h-1zM63 591h1v1h-1zM64 591h1v1h-1zM65 590h1v1h-1zM66 590h1v1h-1zM67 590h1v1h-1zM68 589h1v1h-1zM69 588h1v1h-1zM69 587h1v1h-1zM70 586h1v1h-1zM71 585h1v1h-1zM72 584h1v1h-1zM73 583h1v1h-1zM74 582h1v1h-1zM74 581h1v1h-1zM75 580h1v1h-1zM76 579h1v1h-1zM77 578h1v1h-1zM78 577h1v1h-1zM78 576h1v1h-1zM79 575h1v1h-1zM80 574h1v1h-1zM81 573h1v1h-1zM82 572h1v1h-1zM82 571h1v1h-1zM83 570h1v1h-1zM84 569h1v1h-1zM85 568h1v1h-1zM85 567h1v1h-1zM86 566h1v1h-1zM87 565h1v1h-1zM88 564h1v1h-1zM88 563h1v1h-1zM89 562h1v1h-1zM90 561h1v1h-1zM91 560h1v1h-1zM91 559h1v1h-1zM92 558h1v1h-1zM93 558h1v1h-1zM94 558h1v1h-1zM95 558h1v1h-1zM96 558h1v1h-1zM97 558h1v1h-1zM98 558h1v1h-1zM99 558h1v1h-1zM100 558h1v1h-1zM101 558h1v1h-1zM102 558h1v1h-1zM103 558h1v1h-1zM104 558h1v1h-1zM105 558h1v1h-1zM106 557h1v1h-1zM107 557h1v1h-1zM108 556h1v1h-1zM109 555h1v1h-1zM110 555h1v1h-1zM111 554h1v1h-1zM112 553h1v1h-1zM113 553h1v1h-1zM114 552h1v1h-1zM115 551h1v1h-1zM116 551h1v1h-1zM117 550h1v1h-1zM118 551h1v1h-1zM119 551h1v1h-1zM120 552h1v1h-1zM121 552h1v1h-1zM122 553h1v1h-1zM123 554h1v1h-1zM124 554h1v1h-1zM125 555h1v1h-1zM126 556h1v1h-1zM127 556h1v1h-1zM128 557h1v1h-1zM129 557h1v1h-1zM130 558h1v1h-1zM131 557h1v1h-1zM132 557h1v1h-1zM133 556h1v1h-1zM134 556h1v1h-1zM135 555h1v1h-1zM136 554h1v1h-1zM137 554h1v1h-1zM138 553h1v1h-1zM139 553h1v1h-1zM140 552h1v1h-1zM141 552h1v1h-1zM142 551h1v1h-1zM143 551h1v1h-1zM144 551h1v1h-1zM145 551h1v1h-1zM146 551h1v1h-1zM147 551h1v1h-1zM148 550h1v1h-1zM149 550h1v1h-1zM150 550h1v1h-1zM151 550h1v1h-1zM152 550h1v1h-1zM153 550h1v1h-1zM154 550h1v1h-1zM155 549h1v1h-1zM156 549h1v1h-1zM157 548h1v1h-1zM158 548h1v1h-1zM159 547h1v1h-1zM160 547h1v1h-1zM161 546h1v1h-1zM162 546h1v1h-1zM163 545h1v1h-1zM164 545h1v1h-1zM165 544h1v1h-1zM166 544h1v1h-1zM167 543h1v1h-1zM168 543h1v1h-1zM169 544h1v1h-1zM170 544h1v1h-1zM171 544h1v1h-1zM172 544h1v1h-1zM173 545h1v1h-1zM174 545h1v1h-1zM175 545h1v1h-1zM176 545h1v1h-1zM177 546h1v1h-1zM178 546h1v1h-1zM179 546h1v1h-1zM180 546h1v1h-1zM181 546h1v1h-1zM182 546h1v1h-1zM183 545h1v1h-1zM184 545h1v1h-1zM185 545h1v1h-1zM186 545h1v1h-1zM187 545h1v1h-1zM188 545h1v1h-1zM189 544h1v1h-1zM190 544h1v1h-1zM191 544h1v1h-1zM192 544h1v1h-1zM193 544h1v1h-1zM194 544h1v1h-1zM195 545h1v1h-1zM196 545h1v1h-1zM197 545h1v1h-1zM198 545h1v1h-1zM199 545h1v1h-1zM200 545h1v1h-1zM201 546h1v1h-1zM202 546h1v1h-1zM203 546h1v1h-1zM204 546h1v1h-1zM205 546h1v1h-1zM206 546h1v1h-1zM207 546h1v1h-1zM208 546h1v1h-1zM209 546h1v1h-1zM210 546h1v1h-1zM211 546h1v1h-1zM212 546h1v1h-1zM213 546h1v1h-1zM214 546h1v1h-1zM215 546h1v1h-1zM216 546h1v1h-1zM217 546h1v1h-1zM218 546h1v1h-1zM219 547h1v1h-1zM220 547h1v1h-1zM221 547h1v1h-1zM222 547h1v1h-1zM223 548h1v1h-1zM224 548h1v1h-1zM225 548h1v1h-1zM226 548h1v1h-1zM227 549h1v1h-1zM228 549h1v1h-1zM229 549h1v1h-1zM230 549h1v1h-1zM231 549h1v1h-1zM232 549h1v1h-1zM233 549h1v1h-1zM234 549h1v1h-1zM235 549h1v1h-1zM236 549h1v1h-1zM237 549h1v1h-1zM238 549h1v1h-1zM239 549h1v1h-1zM240 549h1v1h-1zM241 549h1v1h-1zM242 549h1v1h-1zM243 549h1v1h-1zM244 549h1v1h-1zM245 549h1v1h-1zM246 549h1v1h-1zM247 549h1v1h-1zM248 549h1v1h-1zM249 549h1v1h-1zM250 549h1v1h-1zM251 549h1v1h-1zM252 549h1v1h-1zM253 549h1v1h-1zM254 549h1v1h-1zM255 549h1v1h-1zM256 550h1v1h-1zM257 550h1v1h-1zM258 550h1v1h-1zM259 551h1v1h-1zM260 551h1v1h-1zM261 551h1v1h-1zM262 551h1v1h-1zM263 552h1v1h-1zM264 552h1v1h-1zM265 552h1v1h-1zM266 553h1v1h-1zM267 553h1v1h-1zM268 553h1v1h-1zM269 553h1v1h-1zM270 553h1v1h-1zM271 553h1v1h-1zM272 553h1v1h-1zM273 553h1v1h-1zM274 553h1v1h-1zM275 553h1v1h-1zM276 553h1v1h-1zM277 553h1v1h-1zM278 553h1v1h-1zM279 553h1v1h-1zM280 553h1v1h-1zM281 552h1v1h-1zM282 552h1v1h-1zM283 552h1v1h-1zM284 552h1v1h-1zM285 551h1v1h-1zM286 551h1v1h-1zM287 551h1v1h-1zM288 551h1v1h-1zM289 550h1v1h-1zM290 550h1v1h-1zM291 550h1v1h-1zM292 549h1v1h-1zM293 549h1v1h-1zM294 548h1v1h-1zM295 548h1v1h-1zM296 547h1v1h-1zM297 546h1v1h-1zM298 546h1v1h-1zM299 545h1v1h-1zM300 545h1v1h-1zM301 544h1v1h-1zM302 544h1v1h-1zM303 543h1v1h-1zM304 543h1v1h-1zM305 543h1v1h-1zM306 543h1v1h-1zM307 543h1v1h-1zM308 543h1v1h-1zM309 543h1v1h-1zM310 544h1v1h-1zM311 544h1v1h-1zM312 544h1v1h-1zM313 544h1v1h-1zM314 544h1v1h-1zM315 544h1v1h-1zM316 544h1v1h-1zM317 544h1v1h-1zM318 543h1v1h-1zM319 543h1v1h-1zM320 543h1v1h-1zM321 542h1v1h-1zM322 542h1v1h-1zM323 542h1v1h-1zM324 541h1v1h-1zM325 541h1v1h-1zM326 541h1v1h-1zM327 540h1v1h-1zM328 540h1v1h-1zM329 540h1v1h-1zM330 541h1v1h-1zM331 541h1v1h-1zM332 542h1v1h-1zM333 542h1v1h-1zM334 542h1v1h-1zM335 543h1v1h-1zM336 543h1v1h-1zM337 543h1v1h-1zM338 544h1v1h-1zM339 544h1v1h-1zM340 545h1v1h-1zM341 545h1v1h-1zM342 545h1v1h-1zM343 544h1v1h-1zM344 544h1v1h-1zM345 544h1v1h-1zM346 543h1v1h-1zM347 543h1v1h-1zM348 543h1v1h-1zM349 542h1v1h-1zM350 542h1v1h-1zM351 542h1v1h-1zM352 541h1v1h-1zM353 541h1v1h-1zM354 541h1v1h-1zM355 541h1v1h-1zM356 540h1v1h-1zM357 540h1v1h-1zM358 540h1v1h-1zM359 540h1v1h-1zM360 539h1v1h-1zM361 539h1v1h-1zM362 539h1v1h-1zM363 539h1v1h-1zM364 538h1v1h-1zM365 538h1v1h-1zM366 538h1v1h-1zM367 538h1v1h-1zM368 538h1v1h-1zM369 538h1v1h-1zM370 538h1v1h-1zM371 538h1v1h-1zM372 538h1v1h-1zM373 538h1v1h-1zM374 538h1v1h-1zM375 538h1v1h-1zM376 538h1v1h-1zM377 538h1v1h-1zM378 538h1v1h-1zM379 539h1v1h-1zM380 539h1v1h-1zM381 540h1v1h-1zM382 540h1v1h-1zM383 541h1v1h-1zM384 541h1v1h-1zM385 542h1v1h-1zM386 542h1v1h-1zM387 543h1v1h-1zM388 543h1v1h-1zM389 544h1v1h-1zM390 544h1v1h-1zM391 545h1v1h-1zM392 546h1v1h-1zM393 547h1v1h-1zM394 548h1v1h-1zM395 549h1v1h-1zM396 550h1v1h-1zM397 551h1v1h-1zM397 552h1v1h-1zM398 553h1v1h-1zM399 554h1v1h-1zM400 555h1v1h-1zM401 556h1v1h-1zM402 557h1v1h-1zM403 558h1v1h-1zM404 559h1v1h-1zM405 560h1v1h-1zM406 561h1v1h-1zM407 562h1v1h-1zM408 563h1v1h-1zM409 564h1v1h-1zM409 565h1v1h-1zM410 566h1v1h-1zM411 567h1v1h-1zM412 568h1v1h-1zM413 569h1v1h-1zM414 570h1v1h-1zM415 571h1v1h-1zM416 572h1v1h-1zM417 572h1v1h-1zM418 573h1v1h-1zM419 573h1v1h-1zM420 574h1v1h-1zM421 575h1v1h-1zM422 575h1v1h-1zM423 576h1v1h-1zM424 576h1v1h-1zM425 577h1v1h-1zM426 577h1v1h-1zM427 578h1v1h-1zM428 578h1v1h-1zM429 579h1v1h-1zM430 579h1v1h-1zM431 579h1v1h-1zM432 580h1v1h-1zM433 580h1v1h-1zM434 580h1v1h-1zM435 580h1v1h-1zM436 581h1v1h-1zM437 581h1v1h-1zM438 581h1v1h-1zM439 582h1v1h-1zM440 582h1v1h-1zM441 582h1v1h-1zM442 583h1v1h-1zM443 583h1v1h-1zM444 583h1v1h-1zM445 584h1v1h-1zM446 584h1v1h-1zM447 584h1v1h-1zM448 585h1v1h-1zM449 585h1v1h-1zM450 585h1v1h-1zM451 586h1v1h-1zM452 586h1v1h-1zM453 587h1v1h-1zM454 587h1v1h-1zM455 588h1v1h-1zM456 588h1v1h-1zM457 589h1v1h-1zM458 590h1v1h-1zM459 590h1v1h-1zM460 591h1v1h-1zM461 592h1v1h-1zM462 592h1v1h-1zM463 593h1v1h-1zM464 593h1v1h-1zM465 594h1v1h-1zM466 594h1v1h-1zM467 595h1v1h-1zM468 595h1v1h-1zM469 595h1v1h-1zM470 595h1v1h-1zM471 596h1v1h-1zM472 596h1v1h-1zM473 596h1v1h-1zM474 596h1v1h-1zM475 597h1v1h-1zM476 597h1v1h-1zM477 597h1v1h-1zM478 597h1v1h-1zM479 597h1v1h-1zM480 597h1v1h-1zM481 597h1v1h-1zM482 597h1v1h-1zM483 597h1v1h-1zM484 597h1v1h-1zM485 597h1v1h-1zM486 597h1v1h-1zM487 597h1v1h-1zM488 597h1v1h-1zM489 597h1v1h-1zM490 597h1v1h-1zM491 597h1v1h-1zM492 597h1v1h-1zM493 597h1v1h-1zM494 597h1v1h-1zM495 597h1v1h-1zM496 597h1v1h-1zM497 597h1v1h-1zM498 597h1v1h-1zM499 597h1v1h-1zM500 597h1v1h-1zM501 597h1v1h-1zM502 597h1v1h-1zM503 598h1v1h-1zM504 599h1v1h-1zM505 599h1v1h-1zM506 600h1v1h-1zM507 601h1v1h-1zM508 602h1v1h-1zM509 602h1v1h-1zM510 603h1v1h-1zM511 604h1v1h-1zM512 605h1v1h-1zM513 605h1v1h-1zM514 606h1v1h-1zM515 607h1v1h-1zM516 608h1v1h-1zM517 609h1v1h-1zM518 610h1v1h-1zM519 610h1v1h-1zM520 611h1v1h-1zM521 612h1v1h-1zM522 613h1v1h-1zM523 614h1v1h-1zM524 615h1v1h-1zM525 615h1v1h-1zM526 616h1v1h-1zM527 617h1v1h-1zM528 618h1v1h-1zM529 618h1v1h-1zM530 619h1v1h-1zM531 620h1v1h-1zM532 620h1v1h-1zM533 621h1v1h-1zM534 622h1v1h-1zM535 622h1v1h-1zM536 623h1v1h-1zM537 624h1v1h-1zM538 624h1v1h-1zM539 625h1v1h-1zM540 625h1v1h-1zM541 625h1v1h-1zM542 625h1v1h-1zM543 625h1v1h-1zM544 625h1v1h-1zM545 625h1v1h-1zM546 625h1v1h-1zM547 625h1v1h-1zM548 625h1v1h-1zM549 625h1v1h-1zM550 625h1v1h-1zM551 625h1v1h-1zM552 625h1v1h-1zM553 624h1v1h-1zM554 624h1v1h-1zM555 624h1v1h-1zM556 623h1v1h-1zM557 623h1v1h-1zM558 623h1v1h-1zM559 623h1v1h-1zM560 622h1v1h-1zM561 622h1v1h-1zM562 622h1v1h-1zM563 621h1v1h-1zM564 621h1v1h-1zM565 620h1v1h-1zM566 620h1v1h-1zM567 619h1v1h-1zM568 619h1v1h-1zM569 618h1v1h-1zM570 618h1v1h-1zM571 617h1v1h-1zM572 617h1v1h-1zM573 616h1v1h-1zM574 616h1v1h-1zM575 615h1v1h-1zM576 615h1v1h-1zM577 615h1v1h-1zM578 614h1v1h-1zM579 614h1v1h-1zM580 613h1v1h-1zM581 613h1v1h-1zM582 613h1v1h-1zM583 612h1v1h-1zM584 612h1v1h-1zM585 612h1v1h-1zM586 611h1v1h-1zM587 611h1v1h-1zM588 610h1v1h-1zM589 610h1v1h-1zM590 610h1v1h-1zM591 611h1v1h-1zM592 611h1v1h-1zM593 611h1v1h-1zM594 612h1v1h-1zM595 612h1v1h-1zM596 612h1v1h-1zM597 613h1v1h-1zM598 613h1v1h-1zM599 613h1v1h-1zM600 614h1v1h-1zM601 614h1v1h-1zM602 614h1v1h-1zM603 614h1v1h-1zM604 615h1v1h-1zM605 615h1v1h-1zM606 615h1v1h-1zM607 615h1v1h-1zM608 616h1v1h-1zM609 616h1v1h-1zM610 616h1v1h-1zM611 616h1v1h-1zM612 617h1v1h-1zM613 617h1v1h-1zM614 617h1v1h-1zM615 617h1v1h-1zM616 618h1v1h-1zM617 618h1v1h-1zM618 618h1v1h-1zM619 618h1v1h-1zM620 619h1v1h-1zM621 619h1v1h-1zM622 619h1v1h-1zM623 619h1v1h-1zM624 620h1v1h-1zM625 620h1v1h-1zM626 620h1v1h-1zM627 620h1v1h-1zM628 620h1v1h-1zM629 621h1v1h-1zM630 621h1v1h-1zM631 621h1v1h-1zM632 621h1v1h-1zM633 622h1v1h-1zM634 622h1v1h-1zM635 622h1v1h-1zM636 622h1v1h-1zM637 623h1v1h-1zM638 623h1v1h-1zM639 623h1v1h-1z" fill="#f00"/>
<rect x="5" y="634" width="2" height="1" fill="#00f"/>
<rect x="16" y="633" width="2" height="2" fill="#00f"/>
<rect x="29" y="633" width="2" height="2" fill="#00f"/>
<rect x="41" y="633" width="2" height="2" fill="#00f"/>
<rect x="54" y="633" width="2" height="2" fill="#00f"/>
<rect x="66" y="633" width="2" height="2" fill="#00f"/>
<rect x="79" y="633" width="2" height="2" fill="#00f"/>
<rect x="91" y="629" width="2" height="6" fill="#00f"/>
<rect x="104" y="631" width="2" height="4" fill="#00f"/>
<rect x="116" y="631" width="2" height="4" fill="#00f"/>
<rect x="129" y="632" width="2" height="3" fill="#00f"/>
<rect x="141" y="632" width="2" height="3" fill="#00f"/>
<rect x="153" y="633" width="2" height="2" fill="#00f"/>
<rect x="166" y="624" width="2" height="11" fill="#00f"/>
<rect x="178" y="616" width="2" height="19" fill="#00f"/>
<rect x="191" y="628" width="2" height="7" fill="#00f"/>
<rect x="203" y="631" width="2" height="4" fill="#00f"/>
<rect x="216" y="633" width="2" height="2" fill="#00f"/>
<rect x="228" y="631" width="2" height="4" fill="#00f"/>
<rect x="240" y="633" width="2" height="2" fill="#00f"/>
<rect x="253" y="631" width="2" height="4" fill="#00f"/>
<rect x="266" y="632" width="2" height="3" fill="#00f"/>
<rect x="278" y="617" width="2" height="18" fill="#00f"/>
<rect x="290" y="631" width="2" height="4" fill="#00f"/>
<rect x="302" y="628" width="2" height="7" fill="#00f"/>
<rect x="315" y="632" width="2" height="3" fill="#00f"/>
<rect x="328" y="615" width="2" height="20" fill="#00f"/>
<rect x="340" y="595" width="2" height="40" fill="#00f"/>
<rect x="352" y="614" width="2" height="21" fill="#00f"/>
<rect x="365" y="609" width="2" height="26" fill="#00f"/>
<rect x="377" y="537" width="2" height="98" fill="#00f"/>
<rect x="390" y="594" width="2" height="41" fill="#00f"/>
<rect x="402" y="583" width="2" height="52" fill="#00f"/>
<rect x="415" y="621" width="2" height="14" fill="#00f"/>
<rect x="426" y="632" width="2" height="3" fill="#00f"/>
<rect x="439" y="629" width="2" height="6" fill="#00f"/>
<rect x="451" y="630" width="2" height="5" fill="#00f"/>
<rect x="464" y="629" width="2" height="6" fill="#00f"/>
<rect x="476" y="613" width="2" height="22" fill="#00f"/>
<rect x="489" y="628" width="2" height="7" fill="#00f"/>
<rect x="501" y="627" width="2" height="8" fill="#00f"/>
<rect x="514" y="629" width="2" height="6" fill="#00f"/>
<rect x="526" y="625" width="2" height="10" fill="#00f"/>
<rect x="538" y="631" width="2" height="4" fill="#00f"/>
<rect x="550" y="632" width="2" height="3" fill="#00f"/>
<rect x="563" y="627" width="2" height="8" fill="#00f"/>
<rect x="575" y="628" width="2" height="7" fill="#00f"/>
<rect x="588" y="628" width="2" height="7" fill="#00f"/>
<rect x="600" y="631" width="2" height="4" fill="#00f"/>
<rect x="613" y="632" width="2" height="3" fill="#00f"/>
<rect x="625" y="630" width="2" height="5" fill="#00f"/>
<rect x="638" y="632" width="2" height="3" fill="#00f"/>
<rect x="5" y="635" width="1" height="5" fill="#000"/>
<rect x="17" y="635" width="1" height="5" fill="#000"/>
<rect x="30" y="635" width="1" height="5" fill="#000"/>
<rect x="42" y="635" width="1" height="17" fill="#000"/>
<rect x="55" y="635" width="1" height="5" fill="#000"/>
<rect x="67" y="635" width="1" height="5" fill="#000"/>
<rect x="80" y="635" width="1" height="5" fill="#000"/>
<rect x="92" y="635" width="1" height="17" fill="#000"/>
<rect x="105" y="635" width="1" height="5" fill="#000"/>
<rect x="117" y="635" width="1" height="5" fill="#000"/>
<rect x="130" y="635" width="1" height="5" fill="#000"/>
<rect x="142" y="635" width="1" height="5" fill="#000"/>
<rect x="154" y="635" width="1" height="17" fill="#000"/>
<rect x="167" y="635" width="1" height="5" fill="#000"/>
<rect x="179" y="635" width="1" height="5" fill="#000"/>
<rect x="192" y="635" width="1" height="5" fill="#000"/>
<rect x="204" y="635" width="1" height="17" fill="#000"/>
<rect x="217" y="635" width="1" height="5" fill="#000"/>
<rect x="229" y="635" width="1" height="5" fill="#000"/>
<rect x="242" y="635" width="1" height="5" fill="#000"/>
<rect x="254" y="635" width="1" height="17" fill="#000"/>
<rect x="267" y="635" width="1" height="5" fill="#000"/>
<rect x="278" y="635" width="1" height="5" fill="#000"/>
<rect x="291" y="635" width="1" height="5" fill="#000"/>
<rect x="303" y="635" width="1" height="5" fill="#000"/>
<rect x="316" y="635" width="1" height="17" fill="#000"/>
<rect x="328" y="635" width="1" height="5" fill="#000"/>
<rect x="341" y="635" width="1" height="5" fill="#000"/>
<rect x="353" y="635" width="1" height="5" fill="#000"/>
<rect x="366" y="635" width="1" height="17" fill="#000"/>
<rect x="378" y="635" width="1" height="5" fill="#000"/>
<rect x="391" y="635" width="1" height="5" fill="#000"/>
<rect x="403" y="635" width="1" height="5" fill="#000"/>
<rect x="415" y="635" width="1" height="17" fill="#000"/>
<rect x="427" y="635" width="1" height="5" fill="#000"/>
<rect x="440" y="635" width="1" height="5" fill="#000"/>
<rect x="452" y="635" width="1" height="5" fill="#000"/>
<rect x="465" y="635" width="1" height="5" fill="#000"/>
<rect x="477" y="635" width="1" height="17" fill="#000"/>
<rect x="490" y="635" width="1" height="5" fill="#000"/>
<rect x="502" y="635" width="1" height="5" fill="#000"/>
<rect x="515" y="635" width="1" height="5" fill="#000"/>
<rect x="527" y="635" width="1" height="17" fill="#000"/>
<rect x="539" y="635" width="1" height="5" fill="#000"/>
<rect x="551" y="635" width="1" height="5" fill="#000"/>
<rect x="564" y="635" width="1" height="5" fill="#000"/>
<rect x="576" y="635" width="1" height="17" fill="#000"/>
<rect x="589" y="635" width="1" height="5" fill="#000"/>
<rect x="601" y="635" width="1" height="5" fill="#000"/>
<rect x="614" y="635" width="1" height="5" fill="#000"/>
<rect x="626" y="635" width="1" height="5" fill="#000"/>
<rect x="639" y="635" width="1" height="17" fill="#000"/>
<rect x="651" y="635" width="1" height="5" fill="#000"/>
<rect x="664" y="635" width="1" height="5" fill="#000"/>
<rect x="675" y="635" width="1" height="5" fill="#000"/>
<rect x="688" y="635" width="1" height="5" fill="#000"/>
<rect x="700" y="635" width="1" height="17" fill="#000"/>
<rect x="713" y="635" width="1" height="5" fill="#000"/>
<rect x="725" y="635" width="1" height="5" fill="#000"/>
<rect x="738" y="635" width="1" height="5" fill="#000"/>
<rect x="750" y="635" width="1" height="17" fill="#000"/>
<rect x="763" y="635" width="1" height="5" fill="#000"/>
<rect x="775" y="635" width="1" height="5" fill="#000"/>
<rect x="782" y="0" width="1" height="635" fill="#000"/>
<rect x="783" y="506" width="3" height="1" fill="#000"/>
<rect x="783" y="485" width="3" height="1" fill="#000"/>
<rect x="783" y="466" width="7" height="1" fill="#000"/>
<rect x="783" y="447" width="3" height="1" fill="#000"/>
<rect x="783" y="429" width="3" height="1" fill="#000"/>
<rect x="783" y="412" width="3" height="1" fill="#000"/>
<rect x="783" y="396" width="3" height="1" fill="#000"/>
<rect x="783" y="380" width="7" height="1" fill="#000"/>
<rect x="783" y="365" width="3" height="1" fill="#000"/>
<rect x="783" y="350" width="3" height="1" fill="#000"/>
<rect x="783" y="336" width="3" height="1" fill="#000"/>
<rect x="783" y="323" width="3" height="1" fill="#000"/>
<rect x="783" y="310" width="7" height="1" fill="#000"/>
<rect x="783" y="297" width="3" height="1" fill="#000"/>
<rect x="783" y="285" width="3" height="1" fill="#000"/>
<rect x="783" y="273" width="3" height="1" fill="#000"/>
<rect x="783" y="262" width="3" height="1" fill="#000"/>
<rect x="783" y="250" width="7" height="1" fill="#000"/>
<rect x="783" y="240" width="3" height="1" fill="#000"/>
<rect x="783" y="229" width="3" height="1" fill="#000"/>
<rect x="783" y="219" width="3" height="1" fill="#000"/>
<rect x="783" y="209" width="3" height="1" fill="#000"/>
<rect x="783" y="199" width="7" height="1" fill="#000"/>
<rect x="783" y="190" width="3" height="1" fill="#000"/>
<rect x="783" y="180" width="3" height="1" fill="#000"/>
<rect x="783" y="171" width="3" height="1" fill="#000"/>
<rect x="783" y="163" width="3" height="1" fill="#000"/>
<rect x="783" y="154" width="7" height="1" fill="#000"/>
<rect x="783" y="145" width="3" height="1" fill="#000"/>
<rect x="783" y="137" width="3" height="1" fill="#000"/>
<rect x="783" y="129" width="3" height="1" fill="#000"/>
<rect x="783" y="121" width="3" height="1" fill="#000"/>
<rect x="783" y="113" width="7" height="1" fill="#000"/>
<rect x="783" y="106" width="3" height="1" fill="#000"/>
<rect x="783" y="98" width="3" height="1" fill="#000"/>
<rect x="783" y="91" width="3" height="1" fill="#000"/>
<rect x="783" y="84" width="3" height="1" fill="#000"/>
<rect x="783" y="77" width="7" height="1" fill="#000"/>
<rect x="783" y="70" width="3" height="1" fill="#000"/>
<rect x="783" y="63" width="3" height="1" fill="#000"/>
<rect x="783" y="56" width="3" height="1" fill="#000"/>
<rect x="783" y="50" width="3" height="1" fill="#000"/>
<rect x="783" y="43" width="7" height="1" fill="#000"/>
<rect x="783" y="37" width="3" height="1" fill="#000"/>
<rect x="783" y="31" width="3" height="1" fill="#000"/>
<rect x="783" y="24" width="3" height="1" fill="#000"/>
<rect x="783" y="18" width="3" height="1" fill="#000"/>
<rect x="783" y="12" width="7" height="1" fill="#000"/>
<rect x="783" y="7" width="3" height="1" fill="#000"/>
<rect x="783" y="630" width="3" height="1" fill="#000"/>
<rect x="783" y="626" width="3" height="1" fill="#000"/>
<rect x="783" y="622" width="3" height="1" fill="#000"/>
<rect x="783" y="618" width="3" height="1" fill="#000"/>
<rect x="783" y="613" width="7" height="1" fill="#000"/>
<rect x="783" y="609" width="3" height="1" fill="#000"/>
<rect x="783" y="605" width="3" height="1" fill="#000"/>
<rect x="783" y="601" width="3" height="1" fill="#000"/>
<rect x="783" y="597" width="3" height="1" fill="#000"/>
<rect x="783" y="593" width="7" height="1" fill="#000"/>
<rect x="783" y="588" width="3" height="1" fill="#000"/>
<rect x="783" y="584" width="3" height="1" fill="#000"/>
<rect x="783" y="580" width="3" height="1" fill="#000"/>
<rect x="783" y="576" width="3" height="1" fill="#000"/>
<rect x="783" y="572" width="7" height="1" fill="#000"/>
<rect x="783" y="568" width="3" height="1" fill="#000"/>
<rect x="783" y="563" width="3" height="1" fill="#000"/>
<rect x="783" y="559" width="3" height="1" fill="#000"/>
<rect x="783" y="555" width="3" height="1" fill="#000"/>
<rect x="783" y="551" width="7" height="1" fill="#000"/>
<rect x="783" y="547" width="3" height="1" fill="#000"/>
<rect x="783" y="543" width="3" height="1" fill="#000"/>
<rect x="783" y="538" width="3" height="1" fill="#000"/>
<rect x="783" y="534" width="3" height="1" fill="#000"/>
<rect x="783" y="530" width="3" height="1" fill="#000"/>
<rect x="784" y="623" width="32" height="1" fill="#000"/>
<rect x="784" y="623" width="1" height="12" fill="#000"/>
<rect x="815" y="623" width="1" height="12" fill="#000"/>
<rect x="0" y="0" width="829" height="1" fill="#000"/>
</svg>
<svg width="0" height="0" style="position:absolute"><filter id="bw" x="0" y="0" width="100%" height="100%" color-interpolation-filters="sRGB"><feComponentTransfer><feFuncA type="linear" slope="2.6" intercept="-0.5"/></feComponentTransfer></filter></svg>
<div id="tx" style="position:absolute;left:0;top:0;width:829px;height:652px;filter:url(#bw);"><div class="t" style="font-size:11px;color:#000;top:7.79px;right:3.5px;letter-spacing:0.5px;">0.65</div><div class="t" style="font-size:11px;color:#000;top:38.79px;right:3.5px;letter-spacing:0.5px;">0.60</div><div class="t" style="font-size:11px;color:#000;top:72.79px;right:3.5px;letter-spacing:0.5px;">0.55</div><div class="t" style="font-size:11px;color:#000;top:108.79px;right:3.5px;letter-spacing:0.5px;">0.50</div><div class="t" style="font-size:11px;color:#000;top:149.79px;right:3.5px;letter-spacing:0.5px;">0.45</div><div class="t" style="font-size:11px;color:#000;top:194.79px;right:3.5px;letter-spacing:0.5px;">0.40</div><div class="t" style="font-size:11px;color:#000;top:245.79px;right:3.5px;letter-spacing:0.5px;">0.35</div><div class="t" style="font-size:11px;color:#000;top:305.79px;right:3.5px;letter-spacing:0.5px;">0.30</div><div class="t" style="font-size:11px;color:#000;top:375.79px;right:3.5px;letter-spacing:0.5px;">0.25</div><div class="t" style="font-size:11px;color:#000;top:461.79px;right:3.5px;letter-spacing:0.5px;">0.20</div><div class="t" style="font-size:11px;color:#000;top:546.79px;right:3.5px;letter-spacing:0.5px;">20000</div><div class="t" style="font-size:11px;color:#000;top:567.79px;right:3.5px;letter-spacing:0.5px;">15000</div><div class="t" style="font-size:11px;color:#000;top:587.79px;right:3.5px;letter-spacing:0.5px;">10000</div><div class="t" style="font-size:11px;color:#000;top:608.79px;right:3.5px;letter-spacing:0.5px;">5000</div><div class="t" style="font-size:8.5px;color:#000;top:624.41px;left:786px;">x10000</div><div class="t" style="font-size:11px;color:#000;top:641.29px;left:43.5px;letter-spacing:0.35px;">September</div><div class="t" style="font-size:11px;color:#000;top:641.29px;left:155.5px;letter-spacing:0.35px;">November</div><div class="t" style="font-size:11px;color:#000;top:641.29px;left:255.5px;letter-spacing:0.35px;">2004</div><div class="t" style="font-size:11px;color:#000;top:641.29px;left:317.5px;letter-spacing:0.35px;">February</div><div class="t" style="font-size:11px;color:#000;top:641.29px;left:367.5px;letter-spacing:0.35px;">March</div><div class="t" style="font-size:11px;color:#000;top:641.29px;left:416.5px;letter-spacing:0.35px;">April</div><div class="t" style="font-size:11px;color:#000;top:641.29px;left:478.5px;letter-spacing:0.35px;">May</div><div class="t" style="font-size:11px;color:#000;top:641.29px;left:528.5px;letter-spacing:0.35px;">June</div><div class="t" style="font-size:11px;color:#000;top:641.29px;left:577.5px;letter-spacing:0.35px;">July</div><div class="t" style="font-size:11px;color:#000;top:641.29px;left:640.5px;letter-spacing:0.35px;">August</div><div class="t" style="font-size:11px;color:#000;top:641.29px;left:701.5px;letter-spacing:0.35px;">September</div><div class="t" style="font-size:11px;color:#000;top:641.29px;left:-19.5px;letter-spacing:0.35px;">August</div><div class="t" style="font-size:9.5px;color:#000;top:357.26px;left:128.5px;letter-spacing:0.2px;">Gravestone</div><div class="t" style="font-size:9.5px;color:#000;top:369.36px;left:146px;letter-spacing:0.5px;">Doji</div><div class="t" style="font-size:9.5px;color:#000;top:245.56px;left:255px;letter-spacing:0.15px;">Separating</div><div class="t" style="font-size:9.5px;color:#000;top:258.26px;left:267px;">Lines</div><div class="t" style="font-size:9.5px;color:#000;top:10.36px;left:381.3px;letter-spacing:-0.3px;">Dark</div><div class="t" style="font-size:9.5px;color:#000;top:23.06px;left:379px;">Cloud</div><div class="t" style="font-size:11px;color:#00f;top:373.79px;left:210.5px;letter-spacing:0.3px;">0,26</div><div class="t" style="font-size:11px;color:#00f;top:249.79px;left:453.5px;letter-spacing:0.3px;">0,36</div><div class="t" style="font-size:11px;color:#00f;top:318.29px;left:537px;letter-spacing:0.3px;">0,30</div><svg width="829" height="30" style="position:absolute;left:0;top:0" font-family="Liberation Sans, sans-serif" fill="#000"><text x="247.7" y="13.7" font-size="10" textLength="17.5" lengthAdjust="spacing">PTB</text><text x="267" y="13.7" font-size="10" textLength="57" lengthAdjust="spacing">VE AL AS ARE</text><text x="270" y="13.7" font-size="10" textLength="53" lengthAdjust="spacing">Equis.AME2</text><text x="326" y="13.7" font-size="10" textLength="19" lengthAdjust="spacing">OB (</text><text x="346" y="13.7" font-size="10" textLength="158" lengthAdjust="spacing">0.65000, 0.65000, 0.61000, 0.6</text><text x="347" y="13.7" font-size="10" textLength="160" lengthAdjust="spacing">0,C5rnpi.a0.05 Equity (31,880,53</text><text x="505.5" y="13.7" font-size="10" textLength="28" lengthAdjust="spacing">4000)</text></svg></div>
</body></html>
